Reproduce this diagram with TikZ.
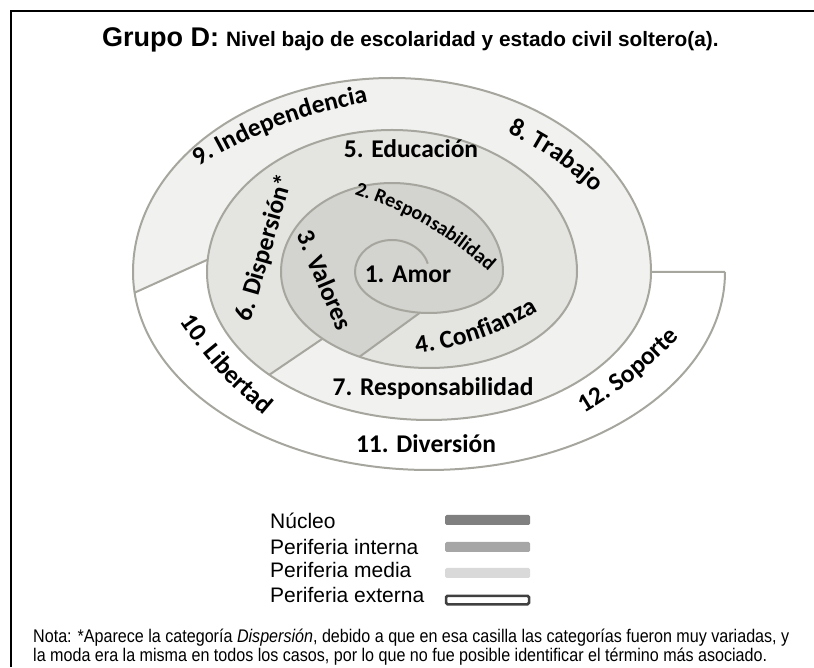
\documentclass[tikz,border=0pt]{standalone}
\usepackage{fontspec}
\setmainfont{Liberation Sans}
\newfontfamily\carlito{Carlito}
\newfontfamily\notafont[FakeStretch=0.88]{Liberation Sans}
\usepackage{xcolor}
\definecolor{grisnucleo}{HTML}{D3D3CF}
\definecolor{grisinterna}{HTML}{E4E4E1}
\definecolor{grismedia}{HTML}{F1F1EF}
\definecolor{grislinea}{HTML}{A6A69E}
\definecolor{leyn}{HTML}{808080}
\definecolor{leyi}{HTML}{A6A6A6}
\definecolor{leym}{HTML}{D9D9D9}
\definecolor{leye}{HTML}{404040}
\def\maulinea{grislinea}
\def\fnhan{\carlito\bfseries\fontsize{25.5}{30}\selectfont}
\def\fnnho{\carlito\bfseries\fontsize{20}{24}\selectfont}
\usetikzlibrary{calc,decorations.text}
\tikzset{
	duong/.style={draw=\maulinea,line width=2pt},
	nhan/.style={font=\fnhan,inner sep=0pt},
	cong/.style={decorate,decoration={text along path,text align=center,text={|\fnhan|#1}}},
	congnho/.style={decorate,decoration={text along path,text align=center,text={|\fnnho|#1}}},
	leyenda/.style={anchor=base west,inner sep=0pt,font=\fontsize{21}{25}\selectfont},
	barra/.style={minimum width=85pt,minimum height=10pt,inner sep=0pt,rounded corners=1.5pt},
	nota/.style={anchor=base west,inner sep=0pt,font=\notafont\fontsize{18.3}{19}\selectfont}
}
\begin{document}
\begin{tikzpicture}[x=1pt,y=1pt,declare function={ux0=37pt;uy0=32pt;lx0=74pt;ly0=41pt;ux1=111pt;uy1=89pt;lx1=148pt;ly1=96pt;ux2=185pt;uy2=142pt;lx2=222pt;ly2=148pt;ux3=259pt;uy3=194pt;lx3=296pt;ly3=198pt;}]
	\useasboundingbox (0,0) rectangle (814,667);
	\path (392,395) coordinate (Cu) (429,395) coordinate (Cl);
	\path ([shift={(263:lx0 and ly0)}]Cl) coordinate (s1a)
	([shift={(242:lx1 and ly1)}]Cl) coordinate (s1b)
	([shift={(224:lx1 and ly1)}]Cl) coordinate (s2a)
	([shift={(224:lx2 and ly2)}]Cl) coordinate (s2b)
	([shift={(175:ux2 and uy2)}]Cu) coordinate (s3a)
	([shift={(186:lx3 and ly3)}]Cl) coordinate (s3b)
	([shift={(0:lx2 and ly2)}]Cl) coordinate (s4a)
	([shift={(0:lx3 and ly3)}]Cl) coordinate (s4b);
	% nucleo
	\fill[grisnucleo] (s1a) arc[start angle=263,end angle=360,x radius=lx0,y radius=ly0]
	arc[start angle=0,end angle=180,x radius=ux1,y radius=uy1]
	arc[start angle=180,end angle=242,x radius=lx1,y radius=ly1] -- cycle;
	% periferia interna
	\fill[grisinterna] (s1a) arc[start angle=263,end angle=360,x radius=lx0,y radius=ly0]
	arc[start angle=0,end angle=180,x radius=ux1,y radius=uy1]
	arc[start angle=180,end angle=224,x radius=lx1,y radius=ly1] -- (s2b)
	arc[start angle=224,end angle=180,x radius=lx2,y radius=ly2]
	arc[start angle=180,end angle=0,x radius=ux2,y radius=uy2]
	arc[start angle=360,end angle=242,x radius=lx1,y radius=ly1] -- cycle;
	% periferia media
	\fill[grismedia] (s2a) arc[start angle=224,end angle=360,x radius=lx1,y radius=ly1]
	arc[start angle=0,end angle=175,x radius=ux2,y radius=uy2] -- (s3b)
	arc[start angle=186,end angle=180,x radius=lx3,y radius=ly3]
	arc[start angle=180,end angle=0,x radius=ux3,y radius=uy3]
	arc[start angle=360,end angle=224,x radius=lx2,y radius=ly2] -- cycle;
	% espiral
	\draw[duong] ([shift={(15:ux0 and uy0)}]Cu) arc[start angle=15,end angle=180,x radius=ux0,y radius=uy0]
	arc[start angle=180,end angle=360,x radius=lx0,y radius=ly0]
	arc[start angle=0,end angle=180,x radius=ux1,y radius=uy1]
	arc[start angle=180,end angle=360,x radius=lx1,y radius=ly1]
	arc[start angle=0,end angle=180,x radius=ux2,y radius=uy2]
	arc[start angle=180,end angle=360,x radius=lx2,y radius=ly2]
	arc[start angle=0,end angle=180,x radius=ux3,y radius=uy3]
	arc[start angle=180,end angle=360,x radius=lx3,y radius=ly3];
	\draw[duong] (s1a) -- (s1b) (s2a) -- (s2b) (s3a) -- (s3b) (s4a) -- (s4b);
	
	\node[nhan,anchor=base] (amor) at (408,384) {1. Amor};
	\node[nhan,anchor=base] (educacion) at (411,509) {5. Educación};
	\node[nhan,anchor=base] (resp7) at (433,271) {7. Responsabilidad};
	\node[nhan,anchor=base] (diversion) at (426,214) {11. Diversión};
	\node[nhan,rotate=74] (dispersion) at (265,419) {6. Dispersión*};
	\node[nhan,rotate=-67] (valores) at (325,387) {3. Valores};
	\path[congnho=2. Responsabilidad] (345,476) to[bend left=12] (496,389);
	\path[cong=4. Confianza] (405,312) to[bend right=12] (548,362);
	\path[cong=8. Trabajo] (508,534) to[bend left=8] (594,475);
	\path[cong=9. Independencia] (191,496) to[bend left=10] (377,567);
	\path[cong=10. Libertad] (177,349) to[bend right=8] (268,249);
	\path[cong=12. Soporte] (581,252) to[bend right=8] (682,333);
	
	\node[anchor=base west,inner sep=0pt,font=\bfseries\fontsize{27}{32}\selectfont] (grupo) at (102,620) {Grupo D:};
	\node[anchor=base west,inner sep=0pt,font=\bfseries\fontsize{20.8}{25}\selectfont] (nivel) at (226,620) {Nivel bajo de escolaridad y estado civil soltero(a).};
	
	\node[leyenda] (lnucleo) at (270,138) {Núcleo};
	\node[leyenda] (linterna) at (270,112) {Periferia interna};
	\node[leyenda] (lmedia) at (270,89) {Periferia media};
	\node[leyenda] (lexterna) at (270,65) {Periferia externa};
	\node[barra,fill=leyn] (bnucleo) at (487.5,147) {};
	\node[barra,fill=leyi] (binterna) at (487.5,120) {};
	\node[barra,fill=leym] (bmedia) at (487.5,94) {};
	\node[barra,draw=leye,line width=2.5pt,fill=white,minimum width=83pt,minimum height=8.5pt] (bexterna) at (487.5,67) {};
	
	\node[nota] (nota1) at (33,25) {Nota: *Aparece la categoría \textit{Dispersión}, debido a que en esa casilla las categorías fueron muy variadas, y};
	\node[nota] (nota2) at (33,6) {la moda era la misma en todos los casos, por lo que no fue posible identificar el término más asociado.};
	
	\draw[line width=2.5pt] (11,0) -- (11,656) -- (814,656);
\end{tikzpicture}
\end{document}
